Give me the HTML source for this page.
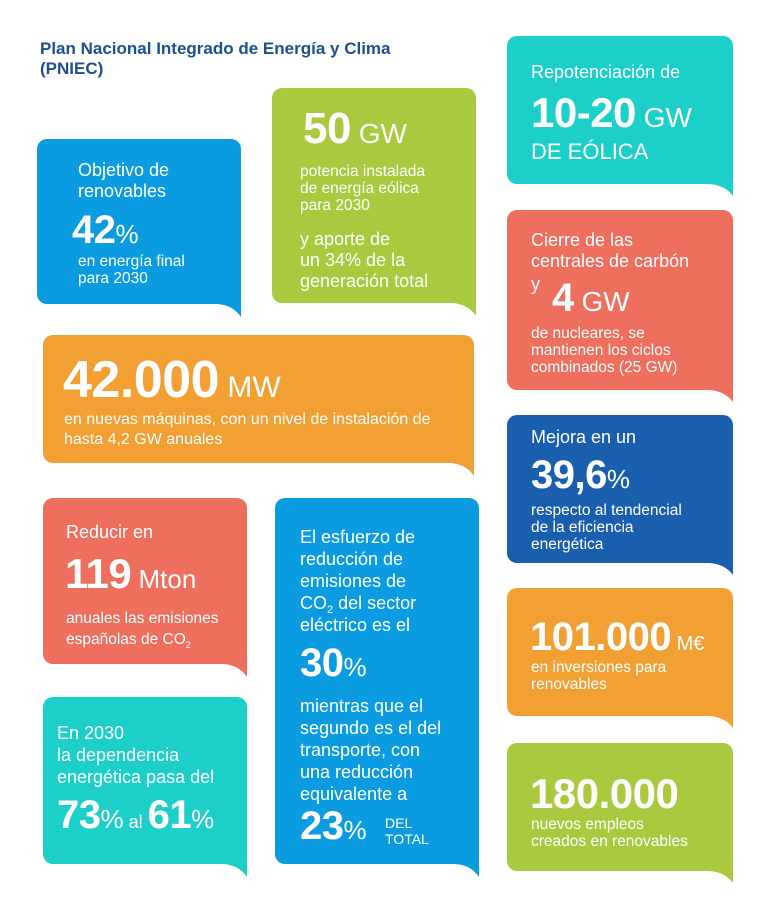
<!DOCTYPE html><html><head><meta charset="utf-8"><style>
*{margin:0;padding:0;box-sizing:border-box}
body{width:768px;height:908px;background:#fff;position:relative;overflow:hidden;font-family:"Liberation Sans",sans-serif;color:#fff}
.b{position:absolute;border-radius:10px 10px 0 10px}
.b svg{position:absolute;right:0;top:100%;display:block}
.t{position:absolute;white-space:nowrap;line-height:1}
.h{font-weight:bold;letter-spacing:-0.5px}
.u{font-weight:normal;letter-spacing:0}
.s{font-size:15.5px;line-height:17px}
.m{font-size:18px;line-height:21px}
sub{vertical-align:-4px;line-height:0}
</style></head><body>
<div class="t" style="left:40px;top:39px;font-size:17px;font-weight:bold;color:#1d4f91;line-height:20px">Plan Nacional Integrado de Energía y Clima<br>(PNIEC)</div>

<div class="b" style="left:37px;top:139px;width:204px;height:165px;background:#0a9be0"><svg width="24" height="13"><path d="M0 0H24V13Q16 1 0 0Z" fill="#0a9be0"/></svg></div>
<div class="b" style="left:272px;top:88px;width:204px;height:215px;background:#a9c93f"><svg width="24" height="13"><path d="M0 0H24V13Q16 1 0 0Z" fill="#a9c93f"/></svg></div>
<div class="b" style="left:43px;top:335px;width:431px;height:128px;background:#f2a033"><svg width="24" height="13"><path d="M0 0H24V13Q16 1 0 0Z" fill="#f2a033"/></svg></div>
<div class="b" style="left:507px;top:36px;width:226px;height:148px;background:#1ccfc9"><svg width="24" height="12"><path d="M0 0H24V12Q16 1 0 0Z" fill="#1ccfc9"/></svg></div>
<div class="b" style="left:507px;top:210px;width:226px;height:180px;background:#ee6f5e"><svg width="24" height="12"><path d="M0 0H24V12Q16 1 0 0Z" fill="#ee6f5e"/></svg></div>
<div class="b" style="left:507px;top:415px;width:226px;height:148px;background:#1a5fae"><svg width="24" height="12"><path d="M0 0H24V12Q16 1 0 0Z" fill="#1a5fae"/></svg></div>
<div class="b" style="left:507px;top:588px;width:226px;height:128px;background:#f2a033"><svg width="24" height="12"><path d="M0 0H24V12Q16 1 0 0Z" fill="#f2a033"/></svg></div>
<div class="b" style="left:507px;top:743px;width:226px;height:128px;background:#a9c93f"><svg width="24" height="12"><path d="M0 0H24V12Q16 1 0 0Z" fill="#a9c93f"/></svg></div>
<div class="b" style="left:43px;top:498px;width:204px;height:166px;background:#ee6f5e"><svg width="24" height="13"><path d="M0 0H24V13Q16 1 0 0Z" fill="#ee6f5e"/></svg></div>
<div class="b" style="left:275px;top:498px;width:204px;height:366px;background:#0a9be0"><svg width="24" height="13"><path d="M0 0H24V13Q16 1 0 0Z" fill="#0a9be0"/></svg></div>
<div class="b" style="left:43px;top:697px;width:204px;height:167px;background:#1ccfc9"><svg width="24" height="13"><path d="M0 0H24V13Q16 1 0 0Z" fill="#1ccfc9"/></svg></div>

<div class="t m" style="left:78px;top:160px">Objetivo de<br>renovables</div>
<div class="t h" style="left:72px;top:210px;font-size:40px">42<span class="u" style="font-size:26px">%</span></div>
<div class="t s" style="left:78px;top:253px">en energía final<br>para 2030</div>

<div class="t h" style="left:303px;top:107px;font-size:44px">50<span class="u" style="font-size:28px"> GW</span></div>
<div class="t s" style="left:300px;top:163px">potencia instalada<br>de energía eólica<br>para 2030</div>
<div class="t m" style="left:300px;top:229px">y aporte de<br>un 34% de la<br>generación total</div>

<div class="t h" style="left:63px;top:354px;font-size:52px">42.000<span class="u" style="font-size:30px"> MW</span></div>
<div class="t" style="left:64px;top:410px;font-size:16px;line-height:20px">en nuevas máquinas, con un nivel de instalación de<br>hasta 4,2 GW anuales</div>

<div class="t m" style="left:531px;top:62px">Repotenciación de</div>
<div class="t h" style="left:531px;top:92px;font-size:42px">10-20<span class="u" style="font-size:28px"> GW</span></div>
<div class="t" style="left:531px;top:141px;font-size:22px">DE EÓLICA</div>

<div class="t m" style="left:531px;top:230px">Cierre de las<br>centrales de carbón</div>
<div class="t m" style="left:531px;top:274px">y</div>
<div class="t h" style="left:552px;top:278px;font-size:40px">4<span class="u" style="font-size:28px"> GW</span></div>
<div class="t s" style="left:531px;top:325px">de nucleares, se<br>mantienen los ciclos<br>combinados (25 GW)</div>

<div class="t m" style="left:531px;top:427px">Mejora en un</div>
<div class="t h" style="left:531px;top:455px;font-size:40px">39,6<span class="u" style="font-size:26px">%</span></div>
<div class="t s" style="left:531px;top:502px">respecto al tendencial<br>de la eficiencia<br>energética</div>

<div class="t h" style="left:530px;top:617px;font-size:40px">101.000<span class="u" style="font-size:20px"> M€</span></div>
<div class="t s" style="left:531px;top:659px">en inversiones para<br>renovables</div>

<div class="t h" style="left:530px;top:773px;font-size:42px">180.000</div>
<div class="t s" style="left:531px;top:816px">nuevos empleos<br>creados en renovables</div>

<div class="t m" style="left:66px;top:522px">Reducir en</div>
<div class="t h" style="left:65px;top:553px;font-size:42px">119<span class="u" style="font-size:26px"> Mton</span></div>
<div class="t s" style="left:66px;top:608px;line-height:21px">anuales las emisiones<br>españolas de CO<sub style="font-size:9px">2</sub></div>

<div class="t m" style="left:300px;top:526px;line-height:22px">El esfuerzo de<br>reducción de<br>emisiones de<br>CO<sub style="font-size:11px">2</sub> del sector<br>eléctrico es el</div>
<div class="t h" style="left:300px;top:643px;font-size:40px">30<span class="u" style="font-size:26px">%</span></div>
<div class="t m" style="left:300px;top:695px;line-height:22px">mientras que el<br>segundo es el del<br>transporte, con<br>una reducción<br>equivalente a</div>
<div class="t h" style="left:300px;top:806px;font-size:40px">23<span class="u" style="font-size:26px">%</span></div>
<div class="t" style="left:385px;top:815px;font-size:14px;line-height:16px">DEL<br>TOTAL</div>

<div class="t m" style="left:57px;top:722px;line-height:22px">En 2030<br>la dependencia<br>energética pasa del</div>
<div class="t h" style="left:57px;top:795px;font-size:40px">73<span class="u" style="font-size:26px">%</span><span class="u" style="font-size:18px"> al </span>61<span class="u" style="font-size:26px">%</span></div>
</body></html>
